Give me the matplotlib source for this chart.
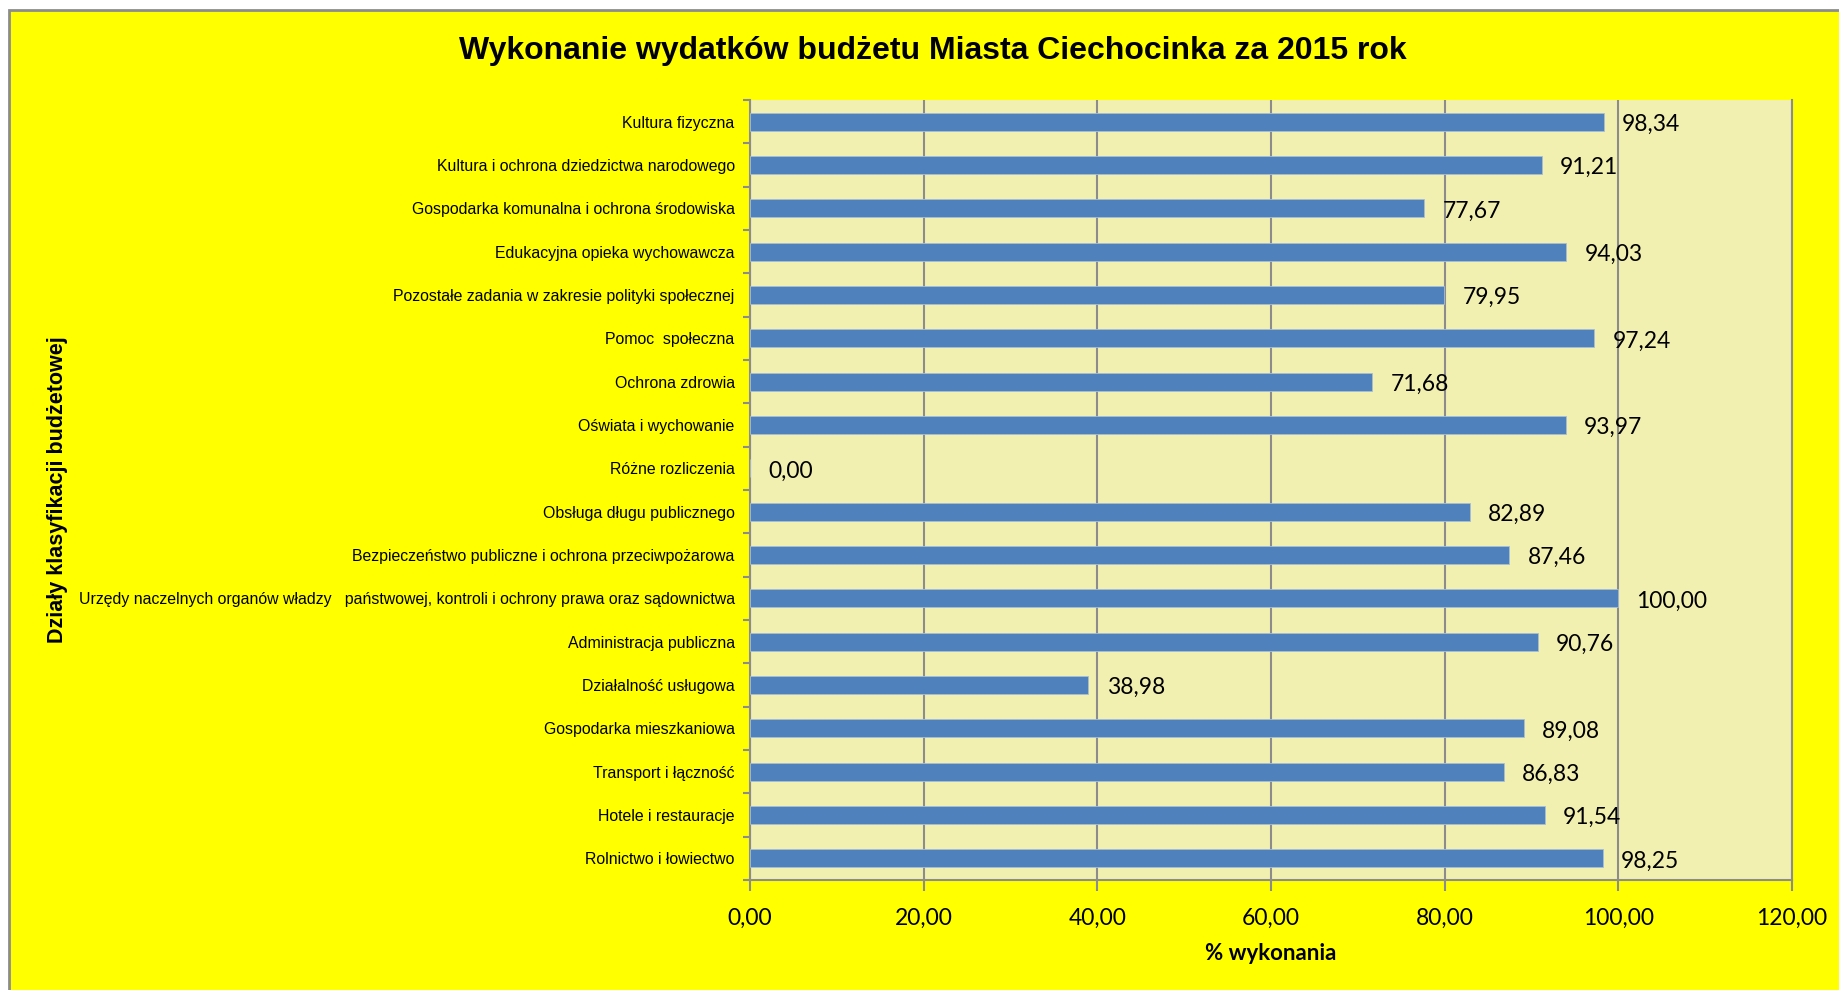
import matplotlib.pyplot as plt
from matplotlib.patches import Rectangle

categories = [
    "Rolnictwo i łowiectwo",
    "Hotele i restauracje",
    "Transport i łączność",
    "Gospodarka mieszkaniowa",
    "Działalność usługowa",
    "Administracja publiczna",
    "Urzędy naczelnych organów władzy   państwowej, kontroli i ochrony prawa oraz sądownictwa",
    "Bezpieczeństwo publiczne i ochrona przeciwpożarowa",
    "Obsługa długu publicznego",
    "Różne rozliczenia",
    "Oświata i wychowanie",
    "Ochrona zdrowia",
    "Pomoc  społeczna",
    "Pozostałe zadania w zakresie polityki społecznej",
    "Edukacyjna opieka wychowawcza",
    "Gospodarka komunalna i ochrona środowiska",
    "Kultura i ochrona dziedzictwa narodowego",
    "Kultura fizyczna",
]
values = [98.25, 91.54, 86.83, 89.08, 38.98, 90.76, 100.00, 87.46, 82.89,
          0.00, 93.97, 71.68, 97.24, 79.95, 94.03, 77.67, 91.21, 98.34]
x_ticks = [0, 20, 40, 60, 80, 100, 120]

grey = "#8C8C8C"

fig = plt.figure(figsize=(18.39, 9.90), dpi=100, facecolor="white")
fig.patches.append(Rectangle((9 / 1839, -0.02), 1.05, 1 - 10 / 990 + 0.02,
                             transform=fig.transFigure, facecolor="#FFFF00",
                             edgecolor=grey, linewidth=2, zorder=-10))

ax = fig.add_axes([750 / 1839, 1 - 880 / 990, 1042 / 1839, 780 / 990])
ax.set_facecolor("#F2F0B0")

y = range(len(categories))
ax.barh(y, values, height=0.42, color="#4F81BD", edgecolor="#A7BED9",
        linewidth=0.6, zorder=3)

for i, v in enumerate(values):
    ax.annotate(f"{v:.2f}".replace(".", ","), (v, i), xytext=(13, -2),
                textcoords="offset points", va="center", ha="left",
                fontsize=16.5, family="Lato", color="black")

ax.set_xlim(0, 120)
ax.set_ylim(-0.5, len(categories) - 0.5)
ax.set_xticks(x_ticks)
ax.set_xticklabels([f"{t:.2f}".replace(".", ",") for t in x_ticks],
                   fontsize=16.5, family="Lato")
ax.set_yticks(list(y))
ax.set_yticklabels(categories, fontsize=11.4, family="Liberation Sans")
ax.set_yticks([i + 0.5 for i in range(-1, len(categories))], minor=True)

ax.tick_params(axis="y", which="major", length=0, pad=11)
ax.tick_params(axis="y", which="minor", length=5, color=grey, width=1.5,
               direction="out")
ax.tick_params(axis="x", length=8, color=grey, width=1.5, pad=12)

ax.grid(axis="x", color=grey, linewidth=1.5, zorder=0)
ax.set_axisbelow(True)
ax.spines["top"].set_visible(False)
for side in ["left", "bottom", "right"]:
    ax.spines[side].set_color(grey)
    ax.spines[side].set_linewidth(1.5)

ax.set_xlabel("% wykonania", fontsize=16, family="Lato", fontweight="bold",
              labelpad=10)
fig.text(57 / 1839, 1 - 490 / 990, "Działy klasyfikacji budżetowej",
         rotation=90, ha="center", va="center", fontsize=15.5,
         fontweight="bold", family="Liberation Sans")

fig.text(933 / 1839, 1 - 51 / 990,
         "Wykonanie wydatków budżetu Miasta Ciechocinka za 2015 rok",
         ha="center", va="center", fontsize=23, fontweight="bold",
         family="Liberation Sans")

fig.savefig("out.png", dpi=100, facecolor=fig.get_facecolor())
